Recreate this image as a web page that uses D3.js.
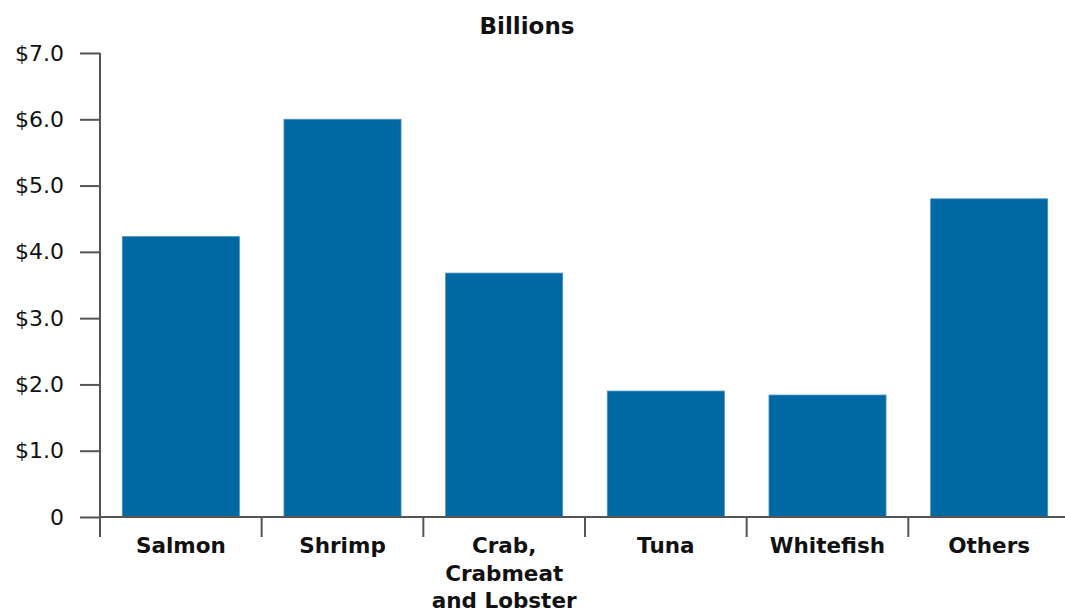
<!DOCTYPE html>
<html>
<head>
<meta charset="utf-8">
<script src="https://cdn.jsdelivr.net/npm/d3@7"></script>
<style>
  body { margin: 0; background: #fff; }
  text { font-family: "DejaVu Sans", sans-serif; fill: #111; }
</style>
</head>
<body>
<div id="chart"></div>
<script>
var categories = ["Salmon", "Shrimp", "Crab,|Crabmeat|and Lobster", "Tuna", "Whitefish", "Others"];
var values = [4.23, 6.0, 3.68, 1.9, 1.84, 4.8];
var yTicks = [0, 1, 2, 3, 4, 5, 6, 7];

var width = 1065, height = 612;
var bar_fill = "#0068a3";
var axis_color = "#555";

var svg = d3.select("#chart").append("svg")
    .attr("width", width)
    .attr("height", height);

var x = d3.scaleBand()
    .domain(categories)
    .range([100, 1070])
    .paddingInner(0.276)
    .paddingOuter(0.138);

var y = d3.scaleLinear()
    .domain([0, 7])
    .range([517, 53]);

// title
svg.append("text")
    .attr("x", 527)
    .attr("y", 34)
    .attr("text-anchor", "middle")
    .style("font-size", "23px")
    .style("font-weight", "bold")
    .text("Billions");

// bars
svg.selectAll("rect.bar")
    .data(values)
    .enter()
    .append("rect")
    .attr("class", "bar")
    .attr("x", function(d, i){ return x(categories[i]); })
    .attr("y", function(d){ return y(d); })
    .attr("width", x.bandwidth())
    .attr("height", function(d){ return y(0) - y(d); })
    .style("fill", bar_fill)
    .style("stroke", "#4a8fc0")
    .style("stroke-width", 0.8);

// y axis
var yAxis = svg.append("g")
    .attr("transform", "translate(100,0)")
    .call(d3.axisLeft(y)
        .tickValues(yTicks)
        .tickSize(20)
        .tickPadding(16)
        .tickFormat(function(d){ return d === 0 ? "0" : "$" + d.toFixed(1); }));
yAxis.select(".domain").attr("d", "M0," + y(7) + "V" + y(0)).style("stroke", axis_color).style("stroke-width", 2);
yAxis.selectAll(".tick line").style("stroke", axis_color).style("stroke-width", 2);
yAxis.selectAll(".tick text")
    .style("font-size", "22px")
    .style("font-family", "DejaVu Sans, sans-serif")
    .style("fill", "#111");

// x axis line + ticks at band edges
var step = x.step();
var bounds = categories.map(function(c){ return x(c) - x.paddingOuter() * step; });
bounds.push(bounds[bounds.length - 1] + step);

var xg = svg.append("g");
xg.append("line")
    .attr("x1", 100).attr("x2", 1070)
    .attr("y1", y(0)).attr("y2", y(0))
    .style("stroke", axis_color).style("stroke-width", 2);
xg.selectAll("line.xt")
    .data(bounds)
    .enter()
    .append("line")
    .attr("class", "xt")
    .attr("x1", function(d){ return d; })
    .attr("x2", function(d){ return d; })
    .attr("y1", y(0))
    .attr("y2", y(0) + 20)
    .style("stroke", axis_color).style("stroke-width", 2);

// category labels, "|" splits lines
var labels = xg.selectAll("text.cat")
    .data(categories)
    .enter()
    .append("text")
    .attr("class", "cat")
    .attr("text-anchor", "middle")
    .attr("x", function(d){ return x(d) + x.bandwidth() / 2; })
    .attr("y", 553)
    .style("font-size", "21.5px")
    .style("font-weight", "bold");
labels.each(function(d){
    var t = d3.select(this);
    d.split("|").forEach(function(line, i){
        t.append("tspan")
            .attr("x", x(d) + x.bandwidth() / 2)
            .attr("dy", i === 0 ? 0 : 27.5)
            .text(line);
    });
});
</script>
</body>
</html>
